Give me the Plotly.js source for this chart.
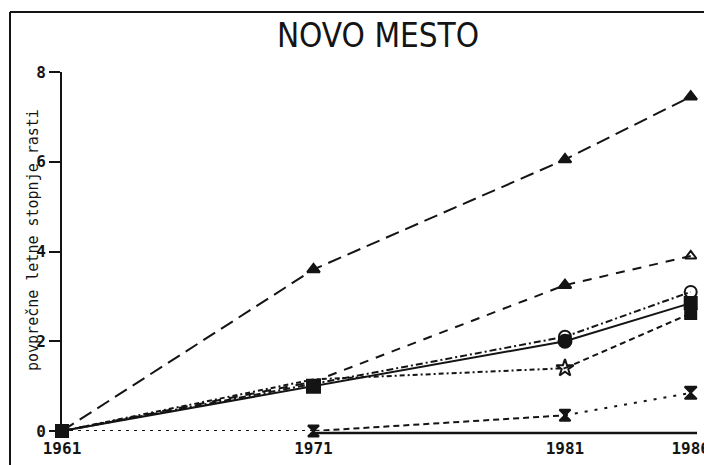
<!DOCTYPE html>
<html>
<head>
<meta charset="utf-8">
<script src="https://cdn.plot.ly/plotly-3.0.1.min.js"></script>
<style>html,body{margin:0;padding:0;background:#fff;}#chart{width:704px;height:465px;}</style>
</head>
<body>
<div id="chart"></div>
<script>
// ---- data ----
var years = [1961, 1971, 1981, 1986];
var tickYears = ['1961', '1971', '1981', '1986'];
var yTicks = [0, 2, 4, 6, 8];
var seriesA = [0, 3.6, 6.05, 7.45];
var seriesB = [0, 1.1, 3.25, 3.9];
var seriesC = [0, 1.0, 2.0, 2.85];
var seriesD = [0, 1.05, 2.1, 3.1];
var seriesE = [0, 1.15, 1.4, 2.62];
var seriesF = [0, 0, 0.35, 0.85];
var titleText = 'NOVO MESTO';
var yTitleText = 'povprečne letne stopnje rasti';

// ---- styles ----
var INK = '#141414';
var LW = 2;
var styles = [
  {y: seriesA, segs: [[0, 3, '14px,7px']],
   sym: [null, 'triangle-up', 'triangle-up', 'triangle-up'], sz: [0, 11, 11, 11]},
  {y: seriesB, segs: [[0, 3, '9px,8px']],
   sym: [null, null, 'triangle-up', 'triangle-up-open'], sz: [0, 0, 11, 10]},
  {y: seriesC, segs: [[0, 3, 'solid']],
   sym: ['square', 'square', 'circle', 'square'], sz: [12, 13, 13, 12]},
  {y: seriesD, segs: [[0, 3, '7px,3px,2px,3px']],
   sym: [null, null, 'circle-open', 'circle-open'], sz: [0, 0, 12, 12]},
  {y: seriesE, segs: [[0, 2, '2px,3px,5px,3px'], [2, 3, '6px,4px']],
   sym: [null, null, 'star-open', 'square'], sz: [0, 0, 13, 11]},
  {y: seriesF, segs: [[0, 1, '3px,5px'], [1, 2, '6px,4px'], [2, 3, '3px,7px']],
   sym: [null, 'hourglass', 'hourglass', 'hourglass'], sz: [0, 11, 11, 12]}
];

var traces = [];
styles.forEach(function (s) {
  s.segs.forEach(function (g) {
    traces.push({
      x: years.slice(g[0], g[1] + 1), y: s.y.slice(g[0], g[1] + 1),
      mode: 'lines', type: 'scatter', hoverinfo: 'skip', showlegend: false,
      line: {color: INK, width: LW, dash: g[2]}, cliponaxis: false
    });
  });
});
styles.forEach(function (s) {
  var xs = [], ys = [], sy = [], sz = [];
  for (var i = 0; i < years.length; i++) {
    if (s.sym[i]) { xs.push(years[i]); ys.push(s.y[i]); sy.push(s.sym[i]); sz.push(s.sz[i]); }
  }
  traces.push({
    x: xs, y: ys, mode: 'markers', type: 'scatter', hoverinfo: 'skip', showlegend: false,
    cliponaxis: false,
    marker: {symbol: sy, size: sz, color: INK, opacity: 1, line: {color: INK, width: 2}}
  });
});

// layout geometry (pixels)
var W = 704, H = 465, L = 62, R = 7, T = 72, B = 34;
var pw = W - L - R, ph = H - T - B;
function px(x) { return (x - L) / pw; }
function py(y) { return (H - B - y) / ph; }
var tickFont = {family: 'DejaVu Sans Mono, monospace', size: 16, color: INK, weight: 'bold'};

var layout = {
  width: W, height: H,
  margin: {l: L, r: R, t: T, b: B, pad: 0},
  paper_bgcolor: '#ffffff', plot_bgcolor: '#ffffff',
  showlegend: false,
  title: {text: titleText, x: 378 / W, xanchor: 'center', y: 1 - 35 / H, yanchor: 'middle',
    font: {family: 'Liberation Sans Narrow, DejaVu Sans Condensed, sans-serif', size: 33, color: INK}},
  xaxis: {range: [1961, 1986.25], tickvals: years, ticktext: tickYears,
    showgrid: false, zeroline: false, showline: false,
    ticks: '', ticklabelstandoff: 6,
    ticklabeloverflow: 'allow', tickfont: tickFont, fixedrange: true},
  yaxis: {range: [0, 8], tickvals: yTicks, showgrid: false, zeroline: false,
    showline: true, linecolor: INK, linewidth: 2, ticks: 'outside', ticklen: 11,
    tickwidth: 2, tickcolor: INK, tickfont: tickFont, fixedrange: true},
  shapes: [
    {type: 'line', xref: 'paper', yref: 'paper', x0: px(10), x1: px(704), y0: py(12), y1: py(12),
      line: {color: INK, width: 2}, layer: 'above'},
    {type: 'line', xref: 'paper', yref: 'paper', x0: px(10), x1: px(10), y0: py(12), y1: py(465),
      line: {color: INK, width: 2}, layer: 'above'},
    // bottom rule of the plotter frame, drawn from 1971 on as in the original
    {type: 'line', xref: 'paper', yref: 'paper', x0: px(316), x1: px(697), y0: py(433), y1: py(433),
      line: {color: INK, width: 2.5}, layer: 'above'}
  ],
  annotations: [
    {text: yTitleText, xref: 'paper', yref: 'paper', x: px(33), y: py(240),
      xanchor: 'center', yanchor: 'middle', textangle: -90, showarrow: false,
      font: {family: 'DejaVu Sans Mono, monospace', size: 15, color: INK}}
  ]
};

Plotly.newPlot('chart', traces, layout, {displayModeBar: false, staticPlot: true});
</script>
</body>
</html>
